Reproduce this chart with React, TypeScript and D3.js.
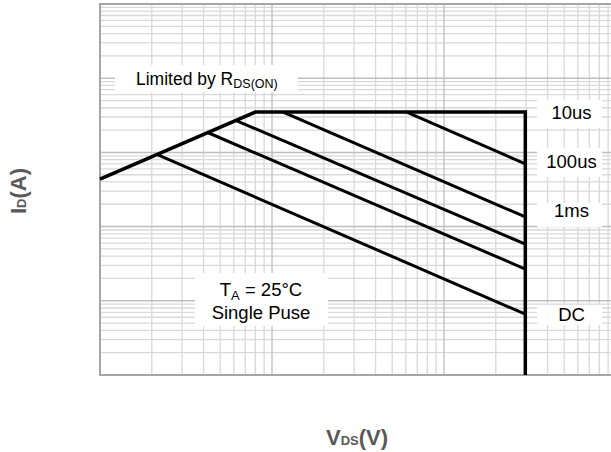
import React from "react";
import * as d3 from "d3";

// axis ranges (log-log SOA chart, no tick labels shown)
const vdsDomain = [0.1, 100];
const idDomain = [0.01, 1000];

// operating limits
const rdsOnLimit = [
  [0.1, 4.35],
  [0.8, 35],
];
const idMax = 35;
const vdsMax = 29.7;

// constant-power pulse lines: [Vstart, Istart] -> [Vend, Iend]
const pulseNames = ["100us", "1ms", "10ms", "100ms", "DC"];
const pulseStart = [
  [6.07, 35],
  [1.16, 35],
  [0.62, 26.8],
  [0.426, 18.4],
  [0.214, 9.4],
];
const pulseEnd = [
  [29.7, 7.0],
  [29.7, 1.35],
  [29.7, 0.58],
  [29.7, 0.268],
  [29.7, 0.066],
];

const FONT = "Arial, 'Liberation Sans', Helvetica, sans-serif";

const App = () => {
  const width = 611;
  const height = 452;
  const left = 100;
  const top = 4;
  const bottom = 375;
  const right = 616;

  const x = d3.scaleLog().domain(vdsDomain).range([left, right]);
  const y = d3.scaleLog().domain(idDomain).range([bottom, top]);

  const minorX: number[] = [];
  const majorX: number[] = [];
  for (let e = -1; e <= 2; e++) {
    const base = Math.pow(10, e);
    majorX.push(base);
    if (e < 2) for (let k = 2; k <= 9; k++) minorX.push(k * base);
  }
  const minorY: number[] = [];
  const majorY: number[] = [];
  for (let e = -2; e <= 3; e++) {
    const base = Math.pow(10, e);
    majorY.push(base);
    if (e < 3) for (let k = 2; k <= 9; k++) minorY.push(k * base);
  }

  const line = d3
    .line<number[]>()
    .x((d) => x(d[0]))
    .y((d) => y(d[1]));

  const envelope = [
    rdsOnLimit[0],
    rdsOnLimit[1],
    [vdsMax, idMax],
    [vdsMax, idDomain[0]],
  ];

  // labels at the right side: box top/bottom and text baseline
  const rightLabels = [
    { t: "10us", y0: 100, y1: 128, base: 118.5 },
    { t: "100us", y0: 148, y1: 177, base: 167.5 },
    { t: "1ms", y0: 203, y1: 227, base: 217 },
    { t: "DC", y0: 305, y1: 325, base: 321 },
  ];

  return (
    <svg
      width={width}
      height={height}
      style={{ position: "absolute", left: 0, top: 0, background: "#fff" }}
      fontFamily={FONT}
    >
      <defs>
        <clipPath id="plot">
          <rect x={left} y={top} width={right - left} height={bottom - top} />
        </clipPath>
      </defs>
      <g clipPath="url(#plot)">
        {minorX.map((v) => (
          <line key={"mx" + v} x1={x(v)} x2={x(v)} y1={top} y2={bottom} stroke="#d9d9d9" strokeWidth={1.3} />
        ))}
        {minorY.map((v) => (
          <line key={"my" + v} y1={y(v)} y2={y(v)} x1={left} x2={right} stroke="#d9d9d9" strokeWidth={1.3} />
        ))}
        {majorX.map((v) => (
          <line key={"Mx" + v} x1={x(v)} x2={x(v)} y1={top} y2={bottom} stroke="#bfbfbf" strokeWidth={1.3} />
        ))}
        {majorY.map((v) => (
          <line key={"My" + v} y1={y(v)} y2={y(v)} x1={left} x2={right} stroke="#bfbfbf" strokeWidth={1.5} />
        ))}
      </g>
      <path
        d={`M${right},${top}H${left}V${bottom}H${right}`}
        fill="none"
        stroke="#a6a6a6"
        strokeWidth={2}
      />

      {/* label boxes */}
      <rect x={115} y={65} width={183} height={27} fill="#fff" />
      <rect x={195} y={273} width={133} height={53} fill="#fff" />
      {rightLabels.map((l) => (
        <rect key={"b" + l.t} x={537} y={l.y0} width={65} height={l.y1 - l.y0} fill="#fff" />
      ))}

      {pulseStart.map((s, i) => (
        <path
          key={pulseNames[i]}
          d={line([s, pulseEnd[i]]) || ""}
          fill="none"
          stroke="#000"
          strokeWidth={3}
        />
      ))}
      <path d={line(envelope) || ""} fill="none" stroke="#000" strokeWidth={3.5} strokeLinejoin="miter" />

      <text x={136} y={84.5} fontSize={17.5} fill="#000">
        Limited by R
        <tspan fontSize={12.5} dy={3.5}>
          DS(ON)
        </tspan>
      </text>

      <text x={261} y={296} fontSize={18.5} fill="#000" textAnchor="middle">
        T
        <tspan fontSize={13} dy={4}>
          A
        </tspan>
        <tspan dy={-4}> = 25°C</tspan>
      </text>
      <text x={261} y={318.5} fontSize={18.5} fill="#000" textAnchor="middle">
        Single Puse
      </text>

      {rightLabels.map((l) => (
        <text key={l.t} x={571.5} y={l.base} fontSize={18.5} textAnchor="middle" fill="#000">
          {l.t}
        </text>
      ))}

      <text
        transform="translate(26,191) rotate(-90)"
        textAnchor="middle"
        fontSize={22}
        fontWeight="bold"
        fill="#595959"
      >
        I
        <tspan fontSize={13}>D</tspan>
        <tspan>(A)</tspan>
      </text>
      <text x={357} y={445} textAnchor="middle" fontSize={22} fontWeight="bold" fill="#595959">
        V
        <tspan fontSize={13}>DS</tspan>
        <tspan>(V)</tspan>
      </text>
    </svg>
  );
};

export default App;
